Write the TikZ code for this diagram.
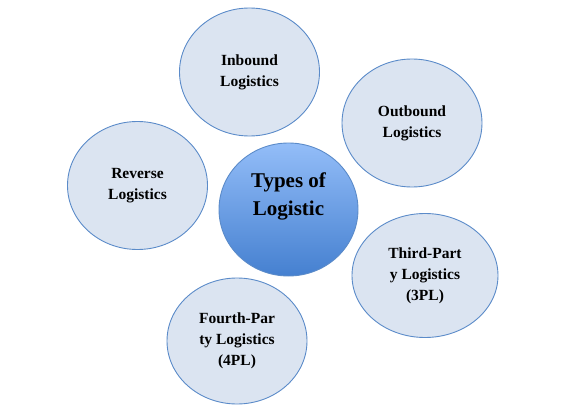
\documentclass[tikz,border=0pt]{standalone}
\usepackage{fontspec}
\setmainfont{Liberation Serif}
\usetikzlibrary{shapes.geometric}
\definecolor{bub}{HTML}{DBE4F1}
\definecolor{edge}{HTML}{5B8BC9}
\definecolor{ctop}{HTML}{93BDF8}
\definecolor{cbot}{HTML}{4580D0}
\tikzset{
  bubble/.style={ellipse, draw=edge, line width=0.9pt, fill=bub, inner sep=0pt,
    minimum width=140pt, minimum height=128pt, align=center,
    font=\fontsize{15.5}{21}\selectfont\bfseries},
  hub/.style={ellipse, draw=edge, line width=0.9pt, top color=ctop, bottom color=cbot,
    inner sep=0pt, minimum width=139pt, minimum height=133pt},
  hubtext/.style={inner sep=0pt, align=center, font=\fontsize{21}{28}\selectfont\bfseries}
}
\begin{document}
\begin{tikzpicture}[x=1pt,y=-1pt]
\useasboundingbox (0,0) rectangle (568,412);
\node[bubble] (inb) at (249.5,72) {Inbound\\Logistics};
\node[bubble] (outb) at (412,123) {Outbound\\Logistics};
\node[bubble] (rev) at (137.5,185.5) {Reverse\\Logistics};
\node[bubble, minimum width=146pt, minimum height=124pt] (tpl) at (425,275.5) {Third-Part\\y Logistics\\(3PL)};
\node[bubble, minimum height=126pt] (fpl) at (237,341) {Fourth-Par\\ty Logistics\\(4PL)};
\node[hub] (hub) at (288.5,209.5) {};
\node[hubtext] (hubt) at (288.5,196) {Types of\\Logistic};
\end{tikzpicture}
\end{document}
